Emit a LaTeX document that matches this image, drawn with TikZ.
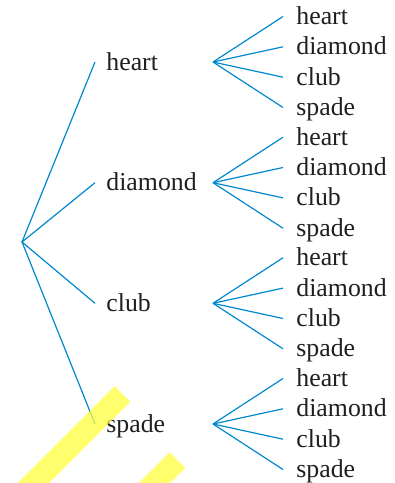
\documentclass[tikz,border=0pt]{standalone}
\usepackage{fontspec}
\setmainfont{Liberation Serif}
\usepackage{xcolor}
\usetikzlibrary{positioning}

\definecolor{treeblue}{RGB}{0,136,206}
\definecolor{marker}{RGB}{255,255,60}

\begin{document}
\begin{tikzpicture}[
  x=0.5pt, y=-0.5pt,
  suit/.style={anchor=west, inner xsep=5.5pt, inner ysep=0pt,
               text height=8pt, text depth=0pt,
               font=\fontsize{12.9}{15}\selectfont, text=black!88},
  leaf/.style={suit, inner xsep=6.5pt},
  edge/.style={draw=treeblue, line width=0.6pt},
  stripe/.style={draw=marker, line width=11pt, opacity=0.75}
]
  \useasboundingbox (0,0) rectangle (395,483);

  %% -- root and first draw ------------------------------------------
  \coordinate (root) at (22,242);
  \node[suit] (h) at (95,62)    {heart};
  \node[suit] (d) at (95,182.7) {diamond};
  \node[suit] (c) at (95,303.3) {club};
  \node[suit] (s) at (95,424)   {spade};

  %% -- fan points of the second draw --------------------------------
  \coordinate (hf) at (213,62);
  \coordinate (df) at (213,182.7);
  \coordinate (cf) at (213,303.3);
  \coordinate (sf) at (213,424);

  %% -- second draw: leaves ------------------------------------------
  \node[leaf] (hh) at (283,16.5)  {heart};
  \node[leaf] (hd) at (283,46.8)  {diamond};
  \node[leaf] (hc) at (283,77.2)  {club};
  \node[leaf] (hs) at (283,107.5) {spade};

  \node[leaf] (dh) at (283,137.2) {heart};
  \node[leaf] (dd) at (283,167.5) {diamond};
  \node[leaf] (dc) at (283,197.9) {club};
  \node[leaf] (ds) at (283,228.2) {spade};

  \node[leaf] (ch) at (283,257.8) {heart};
  \node[leaf] (cd) at (283,288.1) {diamond};
  \node[leaf] (cc) at (283,318.5) {club};
  \node[leaf] (cs) at (283,348.8) {spade};

  \node[leaf] (sh) at (283,378.5) {heart};
  \node[leaf] (sd) at (283,408.8) {diamond};
  \node[leaf] (sc) at (283,439.2) {club};
  \node[leaf] (ss) at (283,469.5) {spade};

  %% -- branches ------------------------------------------------------
  \draw[edge] (root) -- (h.west);
  \draw[edge] (root) -- (d.west);
  \draw[edge] (root) -- (c.west);
  \draw[edge] (root) -- (s.west);

  \draw[edge] (hf) -- (hh.west);
  \draw[edge] (hf) -- (hd.west);
  \draw[edge] (hf) -- (hc.west);
  \draw[edge] (hf) -- (hs.west);

  \draw[edge] (df) -- (dh.west);
  \draw[edge] (df) -- (dd.west);
  \draw[edge] (df) -- (dc.west);
  \draw[edge] (df) -- (ds.west);

  \draw[edge] (cf) -- (ch.west);
  \draw[edge] (cf) -- (cd.west);
  \draw[edge] (cf) -- (cc.west);
  \draw[edge] (cf) -- (cs.west);

  \draw[edge] (sf) -- (sh.west);
  \draw[edge] (sf) -- (sd.west);
  \draw[edge] (sf) -- (sc.west);
  \draw[edge] (sf) -- (ss.west);

  %% -- highlighter marks at the bottom ------------------------------
  \begin{scope}
    \clip (0,0) rectangle (395,483);
    \draw[stripe] (122.5,394) -- (2.5,514);
    \draw[stripe] (177.5,460) -- (117.5,520);
  \end{scope}
\end{tikzpicture}
\end{document}
